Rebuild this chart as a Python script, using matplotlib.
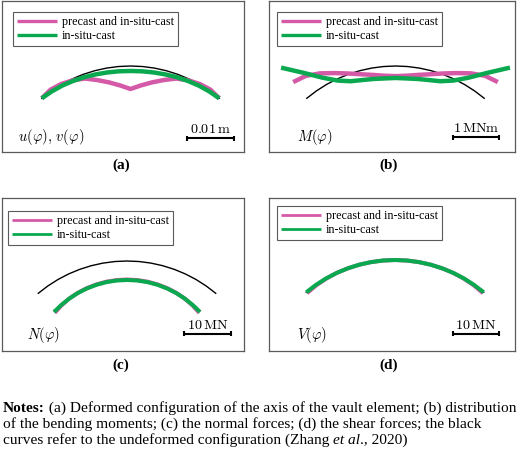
import numpy as np
import matplotlib.pyplot as plt

plt.rcParams["mathtext.fontset"] = "cm"

# angle along the vault axis (deg), crown at 0
PHI = [-40, -35, -30, -25, -20, -15, -10, -5, 0, 5, 10, 15, 20, 25, 30, 35, 40]

SERIES = ["precast and in-situ-cast", "in-situ-cast"]

# (a) radial displacement of the axis, mm
A_PRECAST = [0.0, 0.32, 0.13, -0.32, -0.96, -2.06, -3.09, -4.04, -4.89,
             -4.04, -3.09, -2.06, -0.96, -0.32, 0.13, 0.32, 0.0]
A_INSITU = [0.0, -0.13, -0.28, -0.47, -0.64, -0.81, -0.94, -1.02, -1.06,
            -1.02, -0.94, -0.81, -0.64, -0.47, -0.28, -0.13, 0.0]

# (b) bending moment, MNm
B_PRECAST = [0.46, 0.40, 0.28, 0.14, 0.02, -0.08, -0.15, -0.20, -0.22,
             -0.20, -0.15, -0.08, 0.02, 0.14, 0.28, 0.40, 0.46]
B_INSITU = [0.87, 0.48, 0.17, -0.04, -0.16, -0.21, -0.24, -0.26, -0.26,
            -0.26, -0.24, -0.21, -0.16, -0.04, 0.17, 0.48, 0.87]

# (c) normal force, MN
C_PRECAST = [-5.43, -5.06, -4.72, -4.47, -4.28, -4.13, -4.02, -3.96, -3.94,
             -3.96, -4.02, -4.13, -4.28, -4.47, -4.72, -5.06, -5.43]
C_INSITU = [-5.19, -4.96, -4.72, -4.51, -4.34, -4.21, -4.11, -4.06, -4.04,
            -4.06, -4.11, -4.21, -4.34, -4.51, -4.72, -4.96, -5.19]

# (d) shear force, MN
D_PRECAST = [-0.25, -0.12, -0.05, 0.0, 0.0, 0.0, 0.0, 0.0, 0.0,
             0.0, 0.0, 0.0, 0.0, 0.0, -0.05, -0.12, -0.25]
D_INSITU = [0.0, 0.0, 0.0, 0.0, 0.0, 0.0, 0.0, 0.0, 0.0,
            0.0, 0.0, 0.0, 0.0, 0.0, 0.0, 0.0, 0.0]

PINK = "#d45aa8"
GREEN = "#0aa84f"
W, H = 520, 449
R = 138.0  # arc radius in px

fig = plt.figure(figsize=(W / 100, H / 100), dpi=100)


def panel_axes(x0, y0, x1, y1):
    # axes whose data coords are the figure pixels
    ax = fig.add_axes([x0 / W, 1 - y1 / H, (x1 - x0) / W, (y1 - y0) / H])
    ax.set_xlim(x0, x1)
    ax.set_ylim(y1, y0)
    ax.set_xticks([])
    ax.set_yticks([])
    for s in ax.spines.values():
        s.set_edgecolor("#5a5a5a")
        s.set_linewidth(0.9)
    return ax


def arc_xy(cx, top, vals, scale):
    phi = np.radians(PHI)
    r = R + np.asarray(vals) * scale
    return cx + r * np.sin(phi), top + R - r * np.cos(phi)


def draw_panel(box, cx, top, precast, insitu, scale, lw, leg_xy, leg_lw,
               bar_xy, bar_len, bar_label, label_xy, label):
    ax = panel_axes(*box)
    x, y = arc_xy(cx, top, np.zeros(len(PHI)), scale)
    ax.plot(x, y, color="black", lw=1.0, zorder=1)
    x, y = arc_xy(cx, top, precast, scale)
    ax.plot(x, y, color=PINK, lw=lw, solid_capstyle="butt", zorder=2, label=SERIES[0])
    x, y = arc_xy(cx, top, insitu, scale)
    ax.plot(x, y, color=GREEN, lw=lw, solid_capstyle="butt", zorder=3, label=SERIES[1])

    leg = ax.legend(loc="upper left", bbox_to_anchor=leg_xy, bbox_transform=ax.transData,
                    borderaxespad=0, frameon=True, fancybox=False, framealpha=1,
                    edgecolor="#5a5a5a", prop={"family": "Liberation Serif", "size": 8.7},
                    handlelength=3.3, handletextpad=0.42, borderpad=0.33,
                    labelspacing=0.15)
    leg.get_frame().set_linewidth(0.8)
    for ln in leg.get_lines():
        ln.set_linewidth(leg_lw)

    bx, by = bar_xy
    bx1 = bx + bar_len * scale
    ax.plot([bx, bx1], [by, by], color="black", lw=1.5, solid_capstyle="butt")
    for xx in (bx, bx1):
        ax.plot([xx, xx], [by - 2.5, by + 2.5], color="black", lw=1.5, solid_capstyle="butt")
    ax.text((bx + bx1) / 2, by - 5, bar_label, ha="center", va="baseline",
            fontsize=10.2)
    ax.text(label_xy[0], label_xy[1], label, ha="left", va="center", fontsize=10.5)


draw_panel((2, 1, 244, 152), 130.5, 66, A_PRECAST, A_INSITU, 4.7, 3.2,
           (13, 12), 2.4, (187, 138), 10, r"$0.01\,\mathrm{m}$", (18, 137),
           r"$u(\varphi),\,v(\varphi)$")
draw_panel((269, 1, 515, 152), 395.5, 66, B_PRECAST, B_INSITU, 46, 3.2,
           (277, 12), 2.4, (453, 137), 1, r"$1\,\mathrm{MNm}$", (297, 137),
           r"$M(\varphi)$")
draw_panel((2, 198, 244, 351), 127, 261, C_PRECAST, C_INSITU, 4.7, 2.9,
           (8, 211), 2.0, (184, 334), 10, r"$10\,\mathrm{MN}$", (27, 335),
           r"$N(\varphi)$")
draw_panel((269, 198, 515, 351), 395, 260, D_PRECAST, D_INSITU, 4.6, 2.9,
           (277, 206), 2.0, (453, 334), 10, r"$10\,\mathrm{MN}$", (297, 335),
           r"$V(\varphi)$")

for (px, py), lab in zip([(121, 165), (389, 165), (121, 365), (389, 365)],
                         ["(a)", "(b)", "(c)", "(d)"]):
    fig.text(px / W, 1 - py / H, lab, ha="center", va="center",
             family="Liberation Serif", weight="bold", fontsize=11)

# notes block, drawn piece by piece for the bold / italic parts
NOTE_LINES = [
    [("Notes:", "bold", "normal"),
     (" (a) Deformed configuration of the axis of the vault element; (b) distribution", "normal", "normal")],
    [("of the bending moments; (c) the normal forces; (d) the shear forces; the black", "normal", "normal")],
    [("curves refer to the undeformed configuration (Zhang ", "normal", "normal"),
     ("et al", "normal", "italic"),
     ("., 2020)", "normal", "normal")],
]
renderer = fig.canvas.get_renderer()
note_fs = 11.1


def text_width(s, weight, style):
    t = fig.text(0, 0, "|" + s + "|", family="Liberation Serif", weight=weight,
                 style=style, fontsize=note_fs)
    w = t.get_window_extent(renderer).width
    t.remove()
    t = fig.text(0, 0, "||", family="Liberation Serif", weight=weight,
                 style=style, fontsize=note_fs)
    w -= t.get_window_extent(renderer).width
    t.remove()
    return w


for i, parts in enumerate(NOTE_LINES):
    x = 3.0
    y = 412 + 16 * i
    for s, weight, style in parts:
        fig.text(x / W, 1 - y / H, s, ha="left", va="baseline", family="Liberation Serif",
                 weight=weight, style=style, fontsize=note_fs)
        x += text_width(s, weight, style)

fig.savefig("out.png", dpi=100)
